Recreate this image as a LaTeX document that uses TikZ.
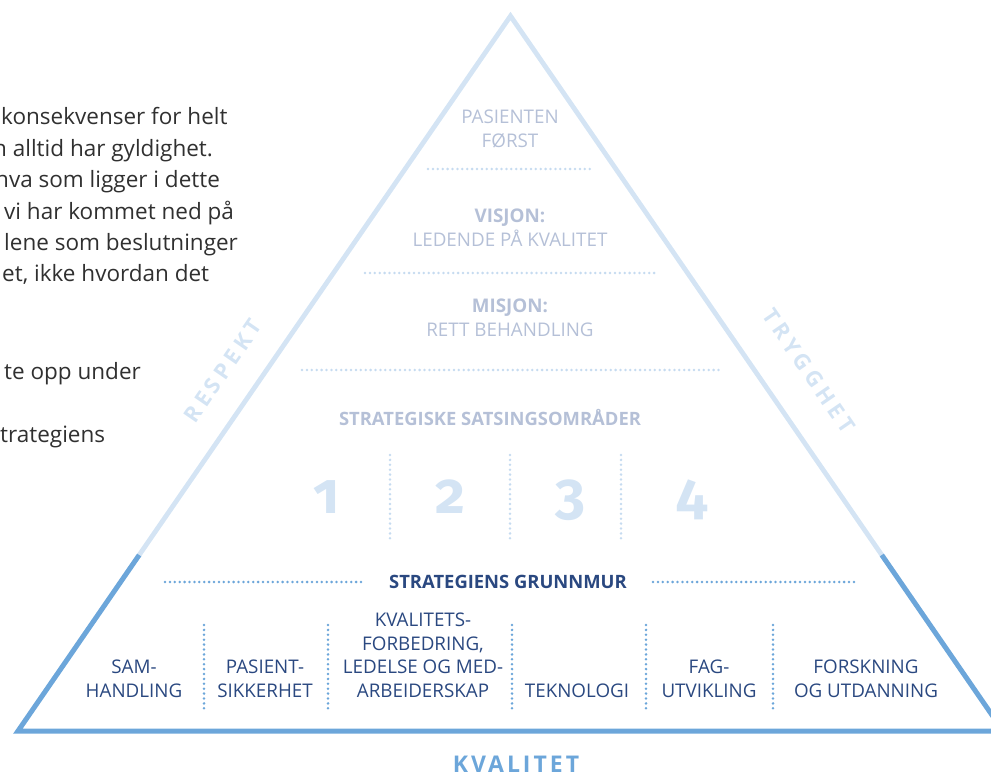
\documentclass[tikz,border=0pt]{standalone}
\usepackage{fontspec}
\setmainfont{Open Sans}
\newfontfamily\digitfont[Numbers=OldStyle]{Fira Sans}
\newfontfamily\spacedfont[LetterSpace=20]{Open Sans}
\newfontfamily\kvalfont[LetterSpace=13]{Open Sans}
\definecolor{lightblue}{HTML}{D4E4F4}
\definecolor{dotlight}{HTML}{C6DBF0}
\definecolor{midblue}{HTML}{6CA6DA}
\definecolor{greytext}{HTML}{B5C0D7}
\definecolor{navy}{HTML}{2A4880}
\definecolor{bodytext}{HTML}{303030}
\tikzset{
  bodyline/.style={anchor=base west, inner sep=0pt, text=bodytext, font=\fontsize{22.5}{22.5}\selectfont},
  toptext/.style={anchor=base, inner sep=0pt, align=center, text=greytext, font=\fontsize{18.8}{24}\selectfont},
  basetext/.style={anchor=base, inner sep=0pt, align=center, text=navy, font=\fontsize{18.8}{23.4}\selectfont},
  bignum/.style={anchor=base, inner sep=0pt, text=lightblue, font=\digitfont\bfseries\fontsize{58}{58}\selectfont},
  sidelabel/.style={anchor=center, inner sep=0pt, text=lightblue, font=\spacedfont\bfseries\fontsize{22}{22}\selectfont},
  lightdots/.style={draw=dotlight, line width=2.8pt, line cap=round, dash pattern=on 0pt off 4.9pt},
  middots/.style={draw=midblue, line width=2.8pt, line cap=round, dash pattern=on 0pt off 4.9pt},
  lightside/.style={draw=lightblue, line width=4.8pt, line join=miter},
  darkside/.style={draw=midblue, line width=5pt, line join=miter},
}
\begin{document}
\begin{tikzpicture}[x=1pt,y=-1pt]
\useasboundingbox (0,0) rectangle (991,775);
\clip (0,0) rectangle (991,775);
% body text on the left
\node[bodyline] (b1) at (1,125) {konsekvenser for helt};
\node[bodyline] (b2) at (-7,157) {n alltid har gyldighet.};
\node[bodyline] (b3) at (-5,188) {hva som ligger i dette};
\node[bodyline] (b4) at (4,220) {vi har kommet ned på};
\node[bodyline] (b5) at (4,251) {lene som beslutninger};
\node[bodyline] (b6) at (2,282) {et, ikke hvordan det};
\node[bodyline] (b7) at (4,380) {te opp under};
\node[bodyline] (b8) at (0,443) {trategiens};
% pyramid outline
\coordinate (apex) at (510.5,16);
\coordinate (bl) at (18,731);
\coordinate (br) at (1003,731);
\coordinate (tl) at (139.2,555);
\coordinate (tr) at (881.8,555);
\draw[lightside] (tl) -- (apex) -- (tr);
\draw[darkside] (tl) -- (bl) -- (br) -- (tr);
% side labels
\node[sidelabel, rotate=55.5] (respekt) at (223,371) {RESPEKT};
\node[sidelabel, rotate=-55.5] (trygghet) at (809,371) {TRYGGHET};
\node[anchor=base, inner sep=0pt, text=midblue, font=\kvalfont\bfseries\fontsize{23}{23}\selectfont] (kvalitet) at (516,772) {KVALITET};
% upper levels
\node[toptext] (pasient) at (510,148) {PASIENTEN\\FØRST};
\coordinate (d1a) at (428,169); \coordinate (d1b) at (591,169);
\draw[lightdots] (d1a) -- (d1b);
\node[toptext] (visjon) at (510,247) {\bfseries VISJON:\\LEDENDE PÅ KVALITET};
\coordinate (d2a) at (365,273); \coordinate (d2b) at (656,273);
\draw[lightdots] (d2a) -- (d2b);
\node[toptext] (misjon) at (510,337) {\bfseries MISJON:\\RETT BEHANDLING};
\coordinate (d3a) at (302,370); \coordinate (d3b) at (719,370);
\draw[lightdots] (d3a) -- (d3b);
\node[toptext, font=\bfseries\fontsize{18.4}{20}\selectfont] (satsing) at (490,426) {STRATEGISKE SATSINGSOMRÅDER};
% four numbers
\node[bignum] (n1) at (327,513) {1};
\node[bignum] (n2) at (450,513) {2};
\node[bignum] (n3) at (570,513) {3};
\node[bignum] (n4) at (692,513) {4};
\foreach \x/\nm in {390/s1,510/s2,621/s3}{
  \coordinate (\nm a) at (\x,455); \coordinate (\nm b) at (\x,540);
  \draw[lightdots] (\nm a) -- (\nm b);
}
% foundation
\node[anchor=base, inner sep=0pt, text=navy, font=\bfseries\fontsize{18.4}{20}\selectfont] (grunnmur) at (508,588) {STRATEGIENS GRUNNMUR};
\coordinate (g1a) at (165,582); \coordinate (g1b) at (365,582);
\coordinate (g2a) at (653,582); \coordinate (g2b) at (857,582);
\draw[middots] (g1a) -- (g1b);
\draw[middots] (g2a) -- (g2b);
\foreach \x/\nm in {204/v1,328/v2,512/v3,646/v4,773/v5}{
  \coordinate (\nm a) at (\x,625); \coordinate (\nm b) at (\x,710);
  \draw[middots] (\nm a) -- (\nm b);
}
\node[basetext] (samhandling) at (134,697) {SAM-\\HANDLING};
\node[basetext] (pasientsikkerhet) at (265,697) {PASIENT-\\SIKKERHET};
\node[basetext] (kvalitetsforb) at (423,697) {KVALITETS-\\FORBEDRING,\\LEDELSE OG MED-\\ARBEIDERSKAP};
\node[basetext] (teknologi) at (577,697) {TEKNOLOGI};
\node[basetext] (fagutvikling) at (709,697) {FAG-\\UTVIKLING};
\node[basetext] (forskning) at (866,697) {FORSKNING\\OG UTDANNING};
\end{tikzpicture}
\end{document}
